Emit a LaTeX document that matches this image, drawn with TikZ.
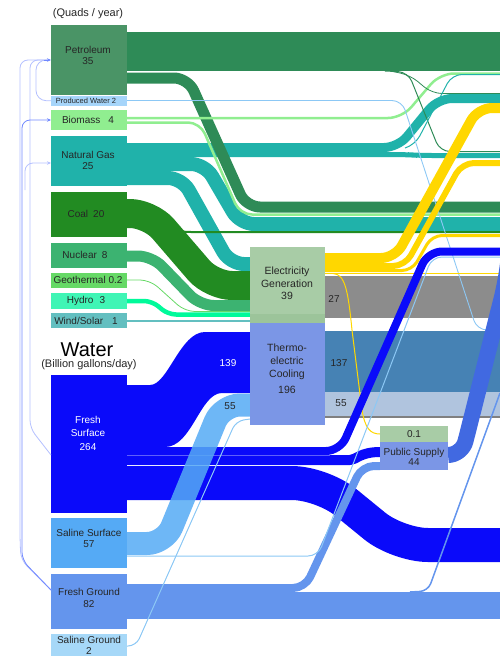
\documentclass[tikz,border=0pt]{standalone}
\usepackage{fontspec}
\setmainfont{Liberation Sans}
\usetikzlibrary{arrows.meta}
\definecolor{cPetro}{HTML}{2E8B57}
\definecolor{cPetroBox}{HTML}{4A9466}
\definecolor{cProd}{HTML}{A6D5FA}
\definecolor{cBio}{HTML}{90EE90}
\definecolor{cGas}{HTML}{20B2AA}
\definecolor{cCoal}{HTML}{228B22}
\definecolor{cNuc}{HTML}{3CB371}
\definecolor{cGeo}{HTML}{66D966}
\definecolor{cHydro}{HTML}{00FA9A}
\definecolor{cHydroBox}{HTML}{40F5B5}
\definecolor{cWind}{HTML}{63BFC0}
\definecolor{cFS}{HTML}{0A0AFA}
\definecolor{cSS}{HTML}{55AAF5}
\definecolor{cFG}{HTML}{6495ED}
\definecolor{cSG}{HTML}{A6D8F8}
\definecolor{cElec}{HTML}{A8CCA6}
\definecolor{cElecStrip}{HTML}{9CC49A}
\definecolor{cThermo}{HTML}{7B96E6}
\definecolor{cYellow}{HTML}{FFD700}
\definecolor{cGray}{HTML}{8C8C8C}
\definecolor{cSteel}{HTML}{4682B4}
\definecolor{cLSteel}{HTML}{B0C4DE}
\definecolor{cRoyal}{HTML}{4169E1}
\definecolor{cLoop}{HTML}{7088FF}
\definecolor{cLoopL}{HTML}{B4C0FF}
\definecolor{cThin}{HTML}{8CC8F5}
\begin{document}
\begin{tikzpicture}[x=1pt,y=-1pt,
  boxst/.style={inner sep=0pt, outer sep=0pt, anchor=north west},
  lbl/.style={inner sep=0pt, align=center, font=\fontsize{10}{11.5}\selectfont, text=black!85},
  flowst/.style={line cap=butt, line join=round, rounded corners=12pt},
  loopline/.style={draw=cLoop, line width=0.8pt},
  looplight/.style={draw=cLoopL, line width=0.8pt},
  arr/.style={-{Stealth[length=4pt,width=3.5pt]}}
]
\useasboundingbox (0,0) rectangle (500,656);
\clip (0,0) rectangle (500,656);

% ---- right-hand horizontal bands
\node[boxst, fill=cGray, minimum width=175pt, minimum height=42pt] (loss) at (325,276) {};
\node[boxst, fill=cSteel, minimum width=175pt, minimum height=61pt] (evap) at (325,331) {};
\node[boxst, fill=cLSteel, minimum width=175pt, minimum height=25pt] (ret) at (325,392) {};
\draw[gray, line width=1.2pt] (ret.south west) -- (ret.south east);

% ---- energy flows
\draw[flowst, cPetro, line width=39pt] (127,51.5) -- (500,51.5);
\draw[flowst, cGas, line width=9pt, rounded corners=14pt] (127,147.5) -- (398,147.5) -- (438,98.5) -- (500,98.5);
\draw[flowst, cGas, line width=5pt] (127,154.5) -- (405,154.5) -- (420,155.5) -- (500,155.5);
\draw[flowst, cGas, line width=14pt, rounded corners=14pt] (127,164) -- (205,164) -- (240,224) -- (500,224);
\draw[flowst, cGas, line width=14pt, rounded corners=14pt] (127,178) -- (182,178) -- (230,264) -- (250,264);
\draw[flowst, cCoal, line width=29pt, rounded corners=20pt] (127,213.5) -- (150,213.5) -- (212,285.5) -- (250,285.5);
\draw[cCoal, line width=2pt, rounded corners=6pt] (165,229) -- (185,232) -- (500,232);
\draw[flowst, cNuc, line width=11pt, rounded corners=14pt] (127,256) -- (152,256) -- (200,305.5) -- (250,305.5);
\draw[cGeo, line width=0.8pt, rounded corners=10pt] (127,280) -- (150,280) -- (185,311.5) -- (250,311.5);
\draw[flowst, cHydro, line width=4.5pt, rounded corners=8pt] (127,301) -- (152,301) -- (168,314.5) -- (250,314.5);
\draw[cWind, line width=1.2pt] (127,321) -- (250,321);
\draw[flowst, cPetro, line width=11pt, rounded corners=14pt] (127,78) -- (188,78) -- (246,207) -- (500,207);
\draw[cBio, line width=2.5pt, rounded corners=14pt] (127,118) -- (402,118) -- (440,73.5) -- (500,73.5);
\draw[cBio, line width=2.5pt, rounded corners=12pt] (127,122.5) -- (200,122.5) -- (240,214.5) -- (500,214.5);
\draw[cPetro, line width=1pt, rounded corners=10pt] (385,71) -- (408,72) -- (440,151.5) -- (500,151.5);
\draw[cPetro, line width=0.8pt, rounded corners=10pt] (390,71) -- (410,75) -- (432,93.5) -- (500,93.5);
\draw[cGas, line width=1pt, rounded corners=10pt] (405,148) -- (415,145) -- (452,74.5) -- (500,74.5);
\draw[cThin, line width=0.9pt, rounded corners=10pt] (127,100.5) -- (402,100.5) -- (477,330) -- (500,330);

% ---- electricity out
\draw[flowst, cYellow, line width=10pt, rounded corners=14pt] (325,258) -- (395,258) -- (478,108) -- (500,108);
\draw[flowst, cYellow, line width=6pt, rounded corners=12pt] (325,266) -- (405,266) -- (462,163) -- (500,163);
\draw[flowst, cYellow, line width=3pt, rounded corners=10pt] (325,270.5) -- (412,270.5) -- (432,235.5) -- (500,235.5);
\draw[cYellow, line width=1.2pt] (325,273.5) -- (500,273.5);
\draw[cYellow, line width=1pt] (333,273.5) .. controls (345,274) and (348,290) .. (352,330) -- (362,410) .. controls (365,428) and (370,434) .. (380,434);

% ---- water flows
\fill[cFS] (127,385) -- (150,385) .. controls (168,385) and (180,332) .. (205,332) -- (250,332) -- (250,393) -- (222,393) .. controls (200,393) and (192,447) .. (165,447) -- (127,447) -- cycle;
\draw[flowst, cFS, line width=34pt, rounded corners=30pt] (127,483) -- (322,483) -- (398,545) -- (500,545);
\draw[flowst, cFS, line width=10pt] (127,460) -- (338,460) .. controls (356,460) and (360,452) .. (380,452);
\draw[flowst, cFS, line width=8pt, rounded corners=14pt] (127,451) -- (340,451) -- (428,251.5) -- (500,251.5);
\draw[white, opacity=0.35, line width=0.6pt] (127,455.5) -- (330,455.5);
\draw[white, opacity=0.35, line width=0.6pt] (127,465.5) -- (320,465.5);
\draw[flowst, cFG, line width=27pt] (127,605.5) -- (500,605.5);
\draw[flowst, cFG, line width=8pt, rounded corners=12pt] (127,588) -- (305,588) -- (362,466) -- (380,466);
\draw[cFG, line width=1.5pt, rounded corners=8pt] (410,592) -- (428,591) -- (500,393);
\draw[flowst, cSS, line width=23pt, rounded corners=18pt, opacity=0.85] (127,543.5) -- (165,543.5) -- (222,405) -- (250,405);
\draw[cThin, line width=1pt, rounded corners=10pt] (127,556) -- (318,556) -- (432,257) -- (500,257);
\draw[cThin, line width=1pt, rounded corners=8pt] (127,646) -- (136,646) -- (236,421) -- (250,419);
\draw[flowst, cRoyal, line width=16pt, rounded corners=14pt] (448,455) -- (462,455) -- (505,285) -- (510,250);

% ---- boxes
\node[boxst, fill=cPetroBox, minimum width=76pt, minimum height=70pt] (petro) at (51,25) {};
\node[boxst, fill=cProd, minimum width=76pt, minimum height=9.5pt] (prod) at (51,96) {};
\node[boxst, fill=cBio, minimum width=76pt, minimum height=20pt] (bio) at (51,110) {};
\node[boxst, fill=cGas, minimum width=76pt, minimum height=50pt] (gas) at (51,136) {};
\node[boxst, fill=cCoal, minimum width=76pt, minimum height=45pt] (coal) at (51,192) {};
\node[boxst, fill=cNuc, minimum width=76pt, minimum height=25pt] (nuc) at (51,243) {};
\node[boxst, fill=cGeo, minimum width=76pt, minimum height=15pt] (geo) at (51,273) {};
\node[boxst, fill=cHydroBox, minimum width=76pt, minimum height=16pt] (hydro) at (51,293) {};
\node[boxst, fill=cWind, minimum width=76pt, minimum height=15pt] (wind) at (51,313) {};
\node[boxst, fill=cFS, minimum width=76pt, minimum height=138pt] (fs) at (51,375) {};
\node[boxst, fill=cSS, minimum width=76pt, minimum height=50pt] (ss) at (51,518) {};
\node[boxst, fill=cFG, minimum width=76pt, minimum height=55pt] (fg) at (51,574) {};
\node[boxst, fill=cSG, minimum width=76pt, minimum height=25pt] (sg) at (51,634) {};
\node[boxst, fill=cElec, minimum width=75pt, minimum height=67pt] (elec) at (250,247) {};
\node[boxst, fill=cElecStrip, minimum width=75pt, minimum height=9pt] (elecs) at (250,314) {};
\node[boxst, fill=cThermo, minimum width=75pt, minimum height=102pt] (thermo) at (250,323) {};
\node[boxst, fill=cElec, minimum width=68pt, minimum height=16pt] (ps01) at (380,426) {};
\node[boxst, fill=cThermo, minimum width=68pt, minimum height=28pt] (ps) at (380,442) {};

% ---- feedback lines on the left
\draw[looplight, rounded corners=8pt] (fs.west |- 0,455) -- (30,428) -- (30,60) -- (49,60);
\draw[looplight, rounded corners=8pt] (fg.west |- 0,590) -- (21,560) -- (20,540) -- (20,60) -- (49,60);
\draw[looplight, arr, rounded corners=8pt] (25,190) -- (25,163) -- (gas.west |- 0,163);
\draw[loopline, arr, rounded corners=8pt] (fg.west |- 0,590) -- (22,560) -- (22,120) -- (bio.west |- 0,120);
\draw[looplight, rounded corners=10pt] (prod.west) -- (36,100.5) -- (36,60) -- (49,60);
\draw[loopline, arr] (44,60) -- (petro.west |- 0,60);

% ---- labels
\node[lbl, font=\fontsize{11}{13}\selectfont] (tQuads) at (88,14) {(Quads / year)};
\node[lbl] (tPetro) at (88,55.5) {Petroleum\\35};
\node[lbl, font=\fontsize{7.5}{9}\selectfont] (tProd) at (86,100.8) {Produced Water 2};
\node[lbl] (tBio) at (88,120) {Biomass\hspace{8pt}4};
\node[lbl] (tGas) at (88,160.5) {Natural Gas\\25};
\node[lbl] (tCoal) at (86,214) {Coal\hspace{5pt}20};
\node[lbl] (tNuc) at (85,255) {Nuclear\hspace{5pt}8};
\node[lbl] (tGeo) at (88,280) {Geothermal 0.2};
\node[lbl] (tHydro) at (86,301) {Hydro\hspace{6pt}3};
\node[lbl] (tWind) at (86,321) {Wind/Solar\hspace{9pt}1};
\node[lbl, font=\fontsize{20}{22}\selectfont, text=black] (tWater) at (87,350) {Water};
\node[lbl, font=\fontsize{11}{13}\selectfont] (tGal) at (89,365) {(Billion gallons/day)};
\node[lbl, text=white, font=\fontsize{10}{13.5}\selectfont] (tFS) at (88,433) {Fresh\\Surface\\264};
\node[lbl] (tSS) at (89,538.5) {Saline Surface\\57};
\node[lbl] (tFG) at (89,598) {Fresh Ground\\82};
\node[lbl] (tSG) at (89,645.5) {Saline Ground\\2};
\node[lbl, font=\fontsize{10.5}{12.5}\selectfont] (tElec) at (287,283.5) {Electricity\\Generation\\39};
\node[lbl, font=\fontsize{10.5}{13}\selectfont] (tThermo) at (287,369) {Thermo-\\electric\\Cooling\\[3pt]196};
\node[lbl] (t27) at (334,299) {27};
\node[lbl] (t137) at (339,363) {137};
\node[lbl] (t55r) at (341,403) {55};
\node[lbl, text=white] (t139) at (228,363) {139};
\node[lbl] (t55l) at (230,406) {55};
\node[lbl] (t01) at (414,434) {0.1};
\node[lbl, font=\fontsize{10}{10}\selectfont] (tPS) at (414,457) {Public Supply\\44};
\end{tikzpicture}
\end{document}
